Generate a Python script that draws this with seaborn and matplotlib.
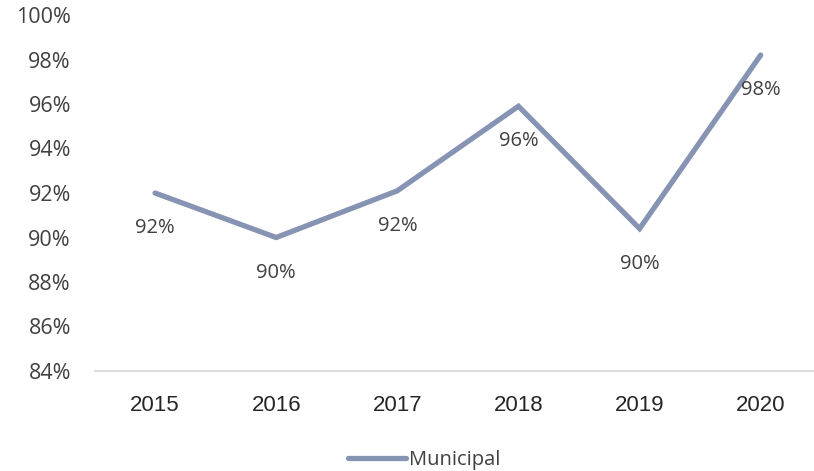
import matplotlib
matplotlib.use("Agg")
import matplotlib.pyplot as plt
import seaborn as sns
import pandas as pd

years = ["2015", "2016", "2017", "2018", "2019", "2020"]
municipal = [92.0, 90.0, 92.1, 95.9, 90.4, 98.2]
value_labels = ["92%", "90%", "92%", "96%", "90%", "98%"]
y_ticks = [84, 86, 88, 90, 92, 94, 96, 98, 100]
series_name = "Municipal"

sns.set_theme(style="white")
plt.rcParams['font.family'] = ['Open Sans', 'DejaVu Sans']

df = pd.DataFrame({"year": years, "value": municipal, "series": series_name})

fig = plt.figure(figsize=(8.14, 4.71), dpi=100)
ax = fig.add_axes([94.5 / 814, 100 / 471, 1 - 94.5 / 814, 356 / 471])

color = "#8793b3"
sns.lineplot(data=df, x="year", y="value", hue="series", palette=[color],
             linewidth=3.8, ax=ax, sort=False, solid_capstyle="round",
             solid_joinstyle="miter")

ax.set_ylim(84, 100)
ax.set_yticks(y_ticks)
ax.set_yticklabels([f"{t}%" for t in y_ticks], fontsize=15.5, color="#404040")
ax.set_xlim(-0.5, 5.44)
ax.tick_params(axis="y", length=0, pad=17)
ax.tick_params(axis="x", length=0, pad=17)
for lbl in ax.get_xticklabels():
    lbl.set_fontfamily(['Liberation Sans Narrow', 'Liberation Sans', 'DejaVu Sans'])
    lbl.set_fontsize(16)
    lbl.set_color("#262626")
for lbl in ax.get_yticklabels():
    lbl.set_horizontalalignment("right")

ax.set_xlabel("")
ax.set_ylabel("")
for s in ["top", "right", "left"]:
    ax.spines[s].set_visible(False)
ax.spines["bottom"].set_color("#d9d9d9")
ax.spines["bottom"].set_linewidth(1.3)

for i, (v, t) in enumerate(zip(municipal, value_labels)):
    ax.annotate(t, (i, v), xytext=(0, -35), textcoords="offset pixels",
                ha="center", va="center", fontsize=14.5, color="#404040")

ax.legend_.remove()
handle = plt.Line2D([], [], color=color, linewidth=3.8, solid_capstyle="round")
fig.legend([handle], [series_name], loc="center", bbox_to_anchor=(0.521, 11 / 471),
           frameon=False, fontsize=14.5, handlelength=2.9, handletextpad=0.15,
           labelcolor="#404040")

fig.savefig("out.png", dpi=100)
